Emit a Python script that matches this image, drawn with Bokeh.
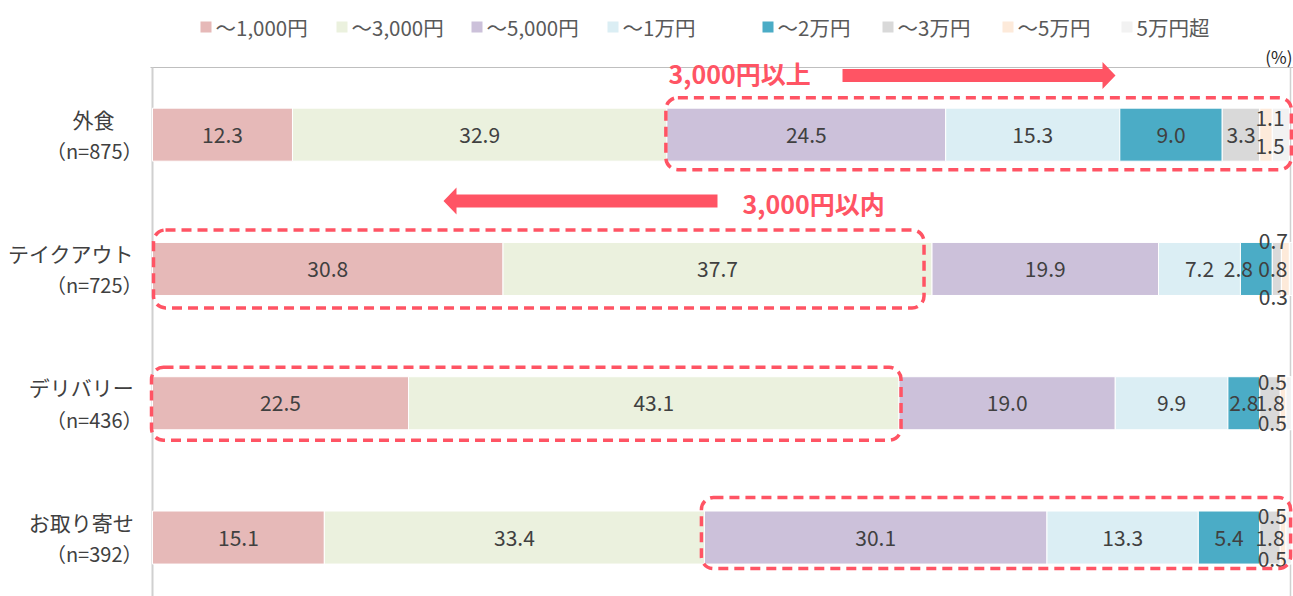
from bokeh.plotting import figure
from bokeh.models import Range1d, ColumnDataSource, BoxAnnotation
from bokeh.core.properties import value
from bokeh.embed import file_html
from bokeh.resources import INLINE

# ---- data -------------------------------------------------------------
categories = ["外食", "テイクアウト", "デリバリー", "お取り寄せ"]
sample_sizes = [875, 725, 436, 392]

bands = ["～1,000円", "～3,000円", "～5,000円", "～1万円",
         "～2万円", "～3万円", "～5万円", "5万円超"]
band_colors = ["#E6B9B8", "#EBF1DE", "#CCC1DA", "#DBEEF4",
               "#4BACC6", "#D9D9D9", "#FDEADA", "#F2F2F2"]

share_1000 = [12.3, 30.8, 22.5, 15.1]
share_3000 = [32.9, 37.7, 43.1, 33.4]
share_5000 = [24.5, 19.9, 19.0, 30.1]
share_10k = [15.3, 7.2, 9.9, 13.3]
share_20k = [9.0, 2.8, 2.8, 5.4]
share_30k = [3.3, 0.8, 1.8, 1.8]
share_50k = [1.1, 0.7, 0.5, 0.5]
share_over = [1.5, 0.3, 0.5, 0.5]

series = [share_1000, share_3000, share_5000, share_10k,
          share_20k, share_30k, share_50k, share_over]

# ---- geometry helpers (pixel <-> data) --------------------------------
W, H = 1293, 596
X0, SX = 152.0, 11.38      # x pixel of 0 %, pixels per %
Y0, SY = 67.0, 134.3       # y pixel of the plot top, pixels per row


def xd(px):
    return (px - X0) / SX


def yd(py):
    return (py - Y0) / SY


FONT = value("Noto Sans CJK JP")
TXT = "#404040"
RED = "#FF5464"

p = figure(width=W, height=H, output_backend="svg", toolbar_location=None,
           x_range=Range1d(xd(0), xd(W)), y_range=Range1d(yd(H), yd(0)),
           min_border=0, min_border_left=0, min_border_right=0,
           min_border_top=0, min_border_bottom=0)
p.axis.visible = False
p.grid.visible = False
p.outline_line_color = None
p.background_fill_color = "white"
p.border_fill_color = "white"

row_y = [i + 0.5 for i in range(len(categories))]
BAR_H = 0.395

# frame lines: top rule, left axis at 0 %, right rule at 100 %
p.segment(x0=[xd(150)], y0=[0], x1=[xd(W)], y1=[0], line_color="#BFBFBF", line_width=1.2)
p.segment(x0=[0], y0=[0], x1=[0], y1=[yd(H)], line_color="#D0D0D0", line_width=2)
p.segment(x0=[100], y0=[0], x1=[100], y1=[yd(H)], line_color="#D0D0D0", line_width=1.5)

# ---- stacked bars -----------------------------------------------------
starts = [[0.0] * len(categories)]
for s in series[:-1]:
    starts.append([a + b for a, b in zip(starts[-1], s)])
totals = [a + b for a, b in zip(starts[-1], series[-1])]

for k, (name, color, vals) in enumerate(zip(bands, band_colors, series)):
    left = starts[k]
    right = [a + b for a, b in zip(left, vals)]
    src = ColumnDataSource(dict(y=row_y, left=left, right=right))
    p.hbar(y="y", left="left", right="right", height=BAR_H, source=src,
           fill_color=color, line_color="white", line_width=1)

# ---- value labels -----------------------------------------------------
lx, ly, lt = [], [], []
nudge_px = {(1, 4): -18, (1, 5): -4}   # horizontal shifts for crowded labels
for k in range(6):
    for i in range(len(categories)):
        v = series[k][i]
        cx = starts[k][i] + v / 2 + nudge_px.get((i, k), 0) / SX
        lx.append(cx)
        ly.append(row_y[i])
        lt.append(f"{v:.1f}")

# the two thinnest segments get their labels stacked above / below the bar
tail_dy = [(-17, 11), (-28, 28), (-21, 20), (-22, 21)]
for i in range(len(categories)):
    tx = totals[i] - 1.7
    up, down = tail_dy[i]
    lx += [tx, tx]
    ly += [row_y[i] + up / SY, row_y[i] + down / SY]
    lt += [f"{share_50k[i]:.1f}", f"{share_over[i]:.1f}"]

p.text(x=lx, y=ly, text=lt, text_align="center", text_baseline="middle",
       text_font=FONT, text_font_size="21px", text_color=TXT)

# ---- category labels --------------------------------------------------
name_x = [xd(min(93, 132 - len(c) * 20.5 / 2)) for c in categories]
p.text(x=name_x, y=[y - 16 / SY for y in row_y], text=categories,
       text_align="center", text_baseline="middle", text_font=FONT,
       text_font_size="21px", text_color=TXT)
p.text(x=[xd(142)] * len(categories), y=[y + 16 / SY for y in row_y],
       text=[f"（n={n}）" for n in sample_sizes], text_align="right",
       text_baseline="middle", text_font=FONT, text_font_size="20px",
       text_color=TXT)

# unit
p.text(x=[xd(1292)], y=[yd(56)], text=["(%)"], text_align="right",
       text_baseline="middle", text_font=FONT, text_font_size="17px",
       text_color="#262626")

# ---- legend -----------------------------------------------------------
legend_px = [200, 336, 471, 607, 762, 882, 1002, 1121]
p.scatter(x=[xd(v + 5.5) for v in legend_px], y=[yd(26.5)] * len(bands),
          marker="square", size=11, fill_color=band_colors, line_color=None)
p.text(x=[xd(v + 15) for v in legend_px], y=[yd(26)] * len(bands), text=bands,
       text_align="left", text_baseline="middle", text_font=FONT,
       text_font_size="20.5px", text_color="#595959")

# ---- highlight boxes --------------------------------------------------
# (row, first band, last band, left pad px, right pad px, top px, bottom px)
boxes = [(0, 2, 7, -1, 2, -37, 35),
         (1, 0, 1, 1, -8, -39, 39),
         (2, 0, 1, -1, 2, -36, 37),
         (3, 2, 7, -3, -1, -40, 31)]
for r, b0, b1, pl, pr, pt, pb in boxes:
    left = starts[b0][r] + pl / SX
    right = starts[b1][r] + series[b1][r] + pr / SX
    p.add_layout(BoxAnnotation(left=left, right=right,
                               top=row_y[r] + pt / SY, bottom=row_y[r] + pb / SY,
                               fill_alpha=0, line_color=RED, line_alpha=1.0,
                               line_width=3.5, line_dash="10 6", border_radius=12))


# ---- arrows with captions ---------------------------------------------
def arrow_patch(x_tail, x_tip, yc, shaft=13, head_w=27, head_len=13):
    d = 1 if x_tip > x_tail else -1
    xb = x_tip - d * head_len
    pts = [(x_tail, yc - shaft / 2), (xb, yc - shaft / 2), (xb, yc - head_w / 2),
           (x_tip, yc), (xb, yc + head_w / 2), (xb, yc + shaft / 2),
           (x_tail, yc + shaft / 2)]
    return [xd(a) for a, _ in pts], [yd(b) for _, b in pts]


ax1, ay1 = arrow_patch(842, 1115, 75)
ax2, ay2 = arrow_patch(717, 443, 200.5)
p.patches(xs=[ax1, ax2], ys=[ay1, ay2], fill_color=RED, line_color=None)

p.text(x=[xd(668), xd(742)], y=[yd(72), yd(202)],
       text=["3,000円以上", "3,000円以内"], text_align="left",
       text_baseline="middle", text_font=FONT, text_font_size="25px",
       text_font_style="bold", text_color=RED)

open("out.html", "w").write(file_html(p, INLINE))
